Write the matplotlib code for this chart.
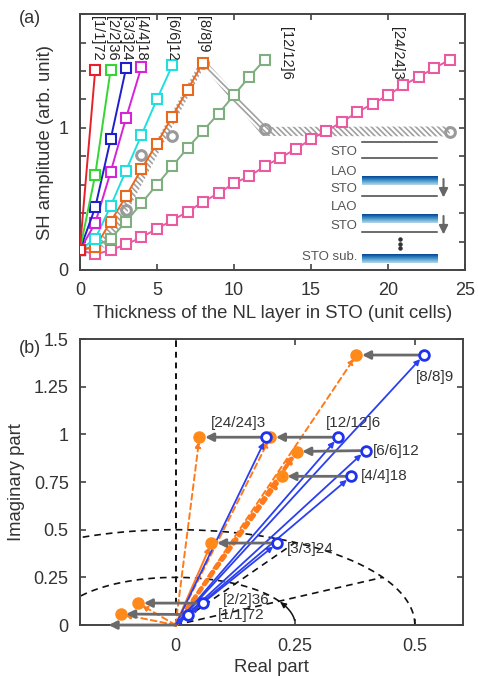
import numpy as np
import matplotlib
matplotlib.use("Agg")
import matplotlib.pyplot as plt
from matplotlib.patches import Polygon

plt.rcParams['font.family'] = ['Liberation Sans', 'DejaVu Sans']
plt.rcParams['font.size'] = 13
plt.rcParams['hatch.linewidth'] = 1.2
plt.rcParams['text.color'] = '#333333'
plt.rcParams['axes.labelcolor'] = '#333333'
plt.rcParams['xtick.color'] = '#333333'
plt.rcParams['ytick.color'] = '#333333'

# ---- panel (a) data: SH amplitude vs NL thickness ----
sl_names = ['[1/1]72', '[2/2]36', '[3/3]24', '[4/4]18', '[6/6]12', '[8/8]9', '[12/12]6', '[24/24]3']
amp_1 = [0.14, 1.41]
amp_2 = [0.14, 0.67, 1.41]
amp_3 = [0.14, 0.44, 0.92, 1.42]
amp_4 = [0.14, 0.33, 0.69, 1.07, 1.43]
amp_6 = [0.14, 0.22, 0.45, 0.70, 0.95, 1.20, 1.44]
amp_8 = [0.14, 0.16, 0.34, 0.52, 0.71, 0.89, 1.08, 1.27, 1.46]
amp_12 = [0.14, 0.17, 0.22, 0.34, 0.47, 0.60, 0.73, 0.86, 0.98, 1.10, 1.23, 1.36, 1.48]
amp_24 = [0.14, 0.11, 0.14, 0.18, 0.23, 0.29, 0.35, 0.41, 0.48, 0.54, 0.61, 0.66, 0.73,
          0.79, 0.85, 0.92, 0.98, 1.04, 1.11, 1.17, 1.23, 1.30, 1.36, 1.42, 1.48]
all_amps = [amp_1, amp_2, amp_3, amp_4, amp_6, amp_8, amp_12, amp_24]

# total SH of each superlattice (grey circles)
total_n = [3, 4, 6, 8, 12, 24]
total_amp = [0.42, 0.81, 0.94, 1.46, 0.99, 0.97]

# hatched guide band
band_x = [1.5, 8, 12, 24]
band_y = [0.16, 1.46, 0.975, 0.975]

# ---- panel (b) data: complex SH vectors ----
blue_re = [0.027, 0.058, 0.213, 0.367, 0.397, 0.519, 0.340, 0.190]
blue_im = [0.055, 0.115, 0.430, 0.780, 0.915, 1.416, 0.985, 0.985]
orange_re = [-0.115, -0.078, 0.075, 0.222, 0.253, 0.378, 0.198, 0.050]
orange_im = [0.058, 0.115, 0.430, 0.780, 0.910, 1.416, 0.985, 0.985]
bulk_re = -0.14

colors_a = ['#e8202a', '#33d633', '#1f1fcc', '#d624d6', '#22dede', '#e8691e', '#7fae7f', '#ea5aa0']

fig = plt.figure(figsize=(4.78, 6.76), dpi=100)
ax = fig.add_axes([0.167, 0.6006, 0.806, 0.3784])
bx = fig.add_axes([0.167, 0.0754, 0.801, 0.4231])

# ---------------- panel (a) ----------------
ax.set_xlim(0, 25)
ax.set_ylim(0, 1.8)

# hatched band, built with a constant pixel width
pts = ax.transData.transform(np.column_stack([band_x, band_y]))
upper, lower = [], []
hw = 5.0
for i in range(len(pts)):
    if i == 0:
        d = pts[1] - pts[0]
        n = np.array([-d[1], d[0]]) / np.hypot(*d)
    elif i == len(pts) - 1:
        d = pts[-1] - pts[-2]
        n = np.array([-d[1], d[0]]) / np.hypot(*d)
    else:
        d1 = pts[i] - pts[i - 1]
        d2 = pts[i + 1] - pts[i]
        n1 = np.array([-d1[1], d1[0]]) / np.hypot(*d1)
        n2 = np.array([-d2[1], d2[0]]) / np.hypot(*d2)
        n = (n1 + n2) / np.hypot(*(n1 + n2))
    upper.append(pts[i] + hw * n)
    lower.append(pts[i] - hw * n)
poly_pix = np.array(upper + lower[::-1])
poly = ax.transData.inverted().transform(poly_pix)
ax.add_patch(Polygon(poly, closed=True, facecolor='none', edgecolor='#a0a0a0',
                     hatch='\\\\\\\\\\\\', lw=0, zorder=1))

ax.plot(total_n, total_amp, 'o', ms=7, mfc='none', mec='#9a9a9a', mew=2.2, zorder=2)

for amps, c in zip(all_amps[::-1], colors_a[::-1]):
    xs = np.arange(len(amps))
    ax.plot(xs, amps, '-s', color=c, lw=1.4, ms=7, mfc='white', mec=c, mew=1.5, zorder=3)

# superlattice names (rotated)
name_pos = [(1.1, 1.79), (2.1, 1.79), (3.0, 1.79), (4.0, 1.79), (6.0, 1.79),
            (8.0, 1.79), (13.4, 1.71), (20.6, 1.71)]
for nm, (px, py) in zip(sl_names, name_pos):
    ax.text(px, py, nm, rotation=-90, ha='center', va='top', fontsize=10.5, color='#222222')

# schematic of the heterostructure
for yy in [0.90, 0.786, 0.52, 0.264]:
    ax.plot([18.3, 23.2], [yy, yy], color='#444444', lw=1.1)
grad = np.linspace(0, 1, 50).reshape(-1, 1)
for y0, y1 in [(0.595, 0.655), (0.33, 0.393), (0.05, 0.11)]:
    ax.imshow(grad, extent=(18.3, 23.2, y0, y1), aspect='auto', cmap='Blues',
              vmin=-0.5, vmax=1.15, origin='lower', zorder=4)
for yt, tt in [(0.83, 'STO'), (0.69, 'LAO'), (0.57, 'STO'), (0.44, 'LAO'), (0.31, 'STO'),
               (0.09, 'STO sub.')]:
    ax.text(18.0, yt, tt, ha='right', va='center', fontsize=9.5, color='#555555')
for ytop in [0.64, 0.38]:
    ax.annotate('', xy=(23.6, ytop - 0.13), xytext=(23.6, ytop),
                arrowprops=dict(arrowstyle='-|>', color='#666666', lw=1.5, mutation_scale=13,
                                shrinkA=0, shrinkB=0))
ax.plot([20.8, 20.8, 20.8], [0.215, 0.185, 0.155], 'o', color='#333333', ms=2.2)

ax.set_xticks([0, 5, 10, 15, 20, 25])
ax.set_yticks([0, 1])
ax.set_yticks(np.arange(0, 1.81, 0.2), minor=True)
ax.tick_params(direction='in', top=True, right=True, length=4, width=1.1, labelsize=13)
ax.tick_params(axis='x', pad=9)
ax.tick_params(axis='y', pad=8)
ax.tick_params(which='minor', direction='in', right=True, length=4, width=1.1)
ax.set_xlabel('Thickness of the NL layer in STO (unit cells)', fontsize=13.3)
ax.set_ylabel('SH amplitude (arb. unit)', fontsize=13.3)
ax.xaxis.set_label_coords(0.5, -0.135)
ax.yaxis.set_label_coords(-0.067, 0.5)
for s in ax.spines.values():
    s.set_color('#444444')
    s.set_linewidth(1.4)
fig.text(0.04, 0.985, '(a)', fontsize=13, va='top')

# ---------------- panel (b) ----------------
bx.set_xlim(-0.2, 0.6)
bx.set_ylim(0, 1.5)

# guide circles and radial lines
th = np.radians(np.linspace(0, 180, 200))
bx.plot(0.5 * np.cos(th), 0.5 * np.sin(th), '--', color='#111111', lw=1.2, dashes=(4, 3))
th2 = np.radians(np.linspace(30, 180, 150))
bx.plot(0.25 * np.cos(th2), 0.25 * np.sin(th2), '--', color='#111111', lw=1.2, dashes=(4, 3))
th3 = np.radians(np.linspace(6, 28, 30))
bx.plot(0.25 * np.cos(th3), 0.25 * np.sin(th3), '-', color='#111111', lw=1.1)
bx.annotate('', xy=(0.25 * np.cos(np.radians(31)), 0.25 * np.sin(np.radians(31))),
            xytext=(0.25 * np.cos(np.radians(24)), 0.25 * np.sin(np.radians(24))),
            arrowprops=dict(arrowstyle='-|>', color='#111111', lw=1.1, mutation_scale=8))
for ang in [30, 60]:
    a = np.radians(ang)
    bx.plot([0, 0.5 * np.cos(a)], [0, 0.5 * np.sin(a)], '--', color='#111111', lw=1.2,
            dashes=(4, 3))
bx.plot([0, 0], [0, 1.5], '--', color='#111111', lw=1.4, dashes=(3, 2.5))

# vectors from origin
thick = {3, 4}
for i, (ore, oim) in enumerate(zip(orange_re, orange_im)):
    lw = 3.0 if i in thick else 1.4
    if i in thick:
        ls = (0, (1.2, 1.2))
    elif i == 2:
        ls = '-'
    else:
        ls = (0, (3, 2))
    bx.annotate('', xy=(ore, oim), xytext=(0, 0),
                arrowprops=dict(arrowstyle='-|>', color='#ff7a1a', lw=lw, linestyle=ls,
                                shrinkA=0, shrinkB=3, mutation_scale=8))
for bre, bim in zip(blue_re, blue_im):
    bx.annotate('', xy=(bre, bim), xytext=(0, 0),
                arrowprops=dict(arrowstyle='-|>', color='#2a3ff0', lw=1.3,
                                shrinkA=0, shrinkB=4, mutation_scale=8))

# rotation (subtraction) arrows
for bre, bim, ore, oim in zip(blue_re, blue_im, orange_re, orange_im):
    bx.annotate('', xy=(ore, oim), xytext=(bre, bim),
                arrowprops=dict(arrowstyle='-|>', color='#6a6a6a', lw=2.0,
                                shrinkA=4, shrinkB=4, mutation_scale=12), zorder=5)
bx.annotate('', xy=(bulk_re, 0), xytext=(0, 0),
            arrowprops=dict(arrowstyle='-|>', color='#6a6a6a', lw=2.0,
                            shrinkA=0, shrinkB=0, mutation_scale=12), zorder=5)

bx.plot(orange_re, orange_im, 'o', color='#ff8a1a', ms=8, zorder=6, clip_on=False)
bx.plot(blue_re, blue_im, 'o', ms=7, mfc='white', mec='#1f32f0', mew=2.0, zorder=7)

label_off = [(21, 0, 'left'), (14, 2, 'left'), (7, -4, 'left'), (7, 0, 'left'),
             (5, 0, 'left'), (8, -16, 'center'), (11, 10, 'center'), (-20, 10, 'center')]
for nm, bre, bim, (dx, dy, ha) in zip(sl_names, blue_re, blue_im, label_off):
    bx.annotate(nm, xy=(bre, bim), xytext=(dx, dy), textcoords='offset points',
                ha=ha, va='center', fontsize=11, color='#333333', zorder=8)

bx.set_xticks([0, 0.25, 0.5])
bx.set_xticklabels(['0', '0.25', '0.5'])
bx.set_yticks([0, 0.25, 0.5, 0.75, 1, 1.25, 1.5])
bx.set_yticklabels(['0', '0.25', '0.5', '0.75', '1', '1.25', '1.5'])
bx.tick_params(direction='in', top=True, right=True, length=4, width=1.1, labelsize=13)
bx.tick_params(axis='x', pad=9)
bx.tick_params(axis='y', pad=8)
bx.set_xlabel('Real part', fontsize=13.3)
bx.set_ylabel('Imaginary part', fontsize=13.3)
bx.xaxis.set_label_coords(0.5, -0.12)
bx.yaxis.set_label_coords(-0.144, 0.5)
for s in bx.spines.values():
    s.set_color('#444444')
    s.set_linewidth(1.4)
fig.text(0.04, 0.497, '(b)', fontsize=13, va='top')

fig.savefig('out.png', dpi=100)
